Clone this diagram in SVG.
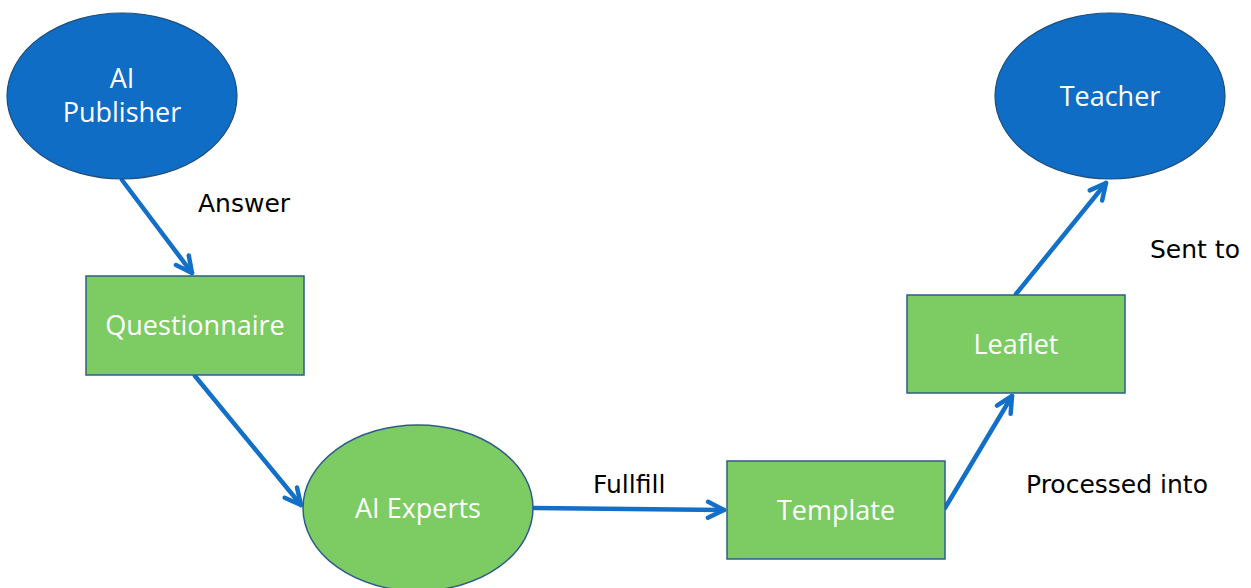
<svg xmlns="http://www.w3.org/2000/svg" width="1251" height="588" viewBox="0 0 1251 588">
<style>
.blue{fill:#106DC5;stroke:#1F4E79;stroke-width:1.2}
.green{fill:#7DCB63;stroke:#2F5C8A;stroke-width:1.5}
.nt{font-family:"Open Sans","Noto Sans",sans-serif;font-size:27px;fill:#FFFFFF;text-anchor:middle}
.lbl{font-family:"DejaVu Sans",sans-serif;font-size:25px;fill:#000000}
.conn{stroke:#1270C9;stroke-width:4.5;fill:none;stroke-linecap:round}
</style>
<defs>
<marker id="arr" markerWidth="10" markerHeight="10" refX="8" refY="5" orient="auto" markerUnits="userSpaceOnUse" viewBox="0 0 10 10" overflow="visible">
<path d="M-8,-3 L8,5 L-8,13" fill="none" stroke="#1270C9" stroke-width="4.5" stroke-linecap="round" stroke-linejoin="round"/>
</marker>
</defs>
<rect width="1251" height="588" fill="#FFFFFF"/>
<g id="connectors">
<line class="conn" x1="122" y1="180" x2="192" y2="273" marker-end="url(#arr)"/>
<line class="conn" x1="195" y1="376" x2="301" y2="505" marker-end="url(#arr)"/>
<line class="conn" x1="534" y1="508" x2="724" y2="510" marker-end="url(#arr)"/>
<line class="conn" x1="945" y1="508" x2="1012" y2="396" marker-end="url(#arr)"/>
<line class="conn" x1="1016" y1="294" x2="1106" y2="183" marker-end="url(#arr)"/>
<text class="lbl" x="198" y="212">Answer</text>
<text class="lbl" x="593" y="493">Fullfill</text>
<text class="lbl" x="1026" y="493">Processed into</text>
<text class="lbl" x="1150" y="258">Sent to</text>
</g>
<g id="ai-publisher">
<ellipse class="blue" cx="122" cy="96" rx="115" ry="83"/>
<text class="nt" x="122" y="88">AI</text>
<text class="nt" x="122" y="122">Publisher</text>
</g>
<g id="questionnaire">
<rect class="green" x="86" y="276" width="218" height="99"/>
<text class="nt" x="195" y="335">Questionnaire</text>
</g>
<g id="ai-experts">
<ellipse class="green" cx="418" cy="508" rx="115" ry="83"/>
<text class="nt" x="418" y="518">AI Experts</text>
</g>
<g id="template">
<rect class="green" x="727" y="461" width="218" height="98"/>
<text class="nt" x="836" y="520">Template</text>
</g>
<g id="leaflet">
<rect class="green" x="907" y="295" width="218" height="98"/>
<text class="nt" x="1016" y="354">Leaflet</text>
</g>
<g id="teacher">
<ellipse class="blue" cx="1110" cy="96" rx="115" ry="83"/>
<text class="nt" x="1110" y="106">Teacher</text>
</g>
</svg>
